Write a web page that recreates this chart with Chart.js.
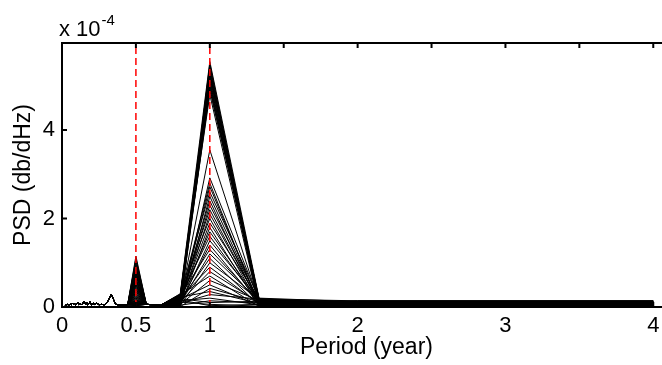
<!DOCTYPE html>
<html>
<head>
<meta charset="utf-8">
<script src="https://cdn.jsdelivr.net/npm/chart.js@4.4.1/dist/chart.umd.min.js"></script>
<style>
  html, body { margin: 0; padding: 0; overflow: hidden; background: #fff; }
</style>
</head>
<body>
<canvas id="psd-chart" width="676" height="365"></canvas>
<script>
'use strict';

// spectrum bins, period in years (longest first)
const periods = [4, 2, 1.333, 1, 0.8, 0.667, 0.571, 0.5, 0.444,
    0.4, 0.364, 0.333, 0.308, 0.286, 0.267, 0.25, 0.235, 0.222, 0.211, 0.2,
    0.19, 0.182, 0.174, 0.167, 0.16, 0.148, 0.138, 0.129, 0.121, 0.114,
    0.108, 0.1, 0.093, 0.085, 0.078, 0.07, 0.062, 0.055, 0.048, 0.04,
    0.033, 0.025, 0.02];

// PSD (x 10^-4) that every record shares at a bin; null = taken from the per-record arrays
const sharedPsd = [null, null, null, null, null, 0.04, 0.06, null, 0.05,
    0.04, 0.06, 0.28, 0.12, 0.05, 0.06, 0.05, 0.09, 0.06, 0.08, 0.05,
    0.12, 0.07, 0.05, 0.1, 0.06, 0.13, 0.07, 0.05, 0.08, 0.06,
    0.1, 0.07, 0.05, 0.08, 0.06, 0.09, 0.05, 0.07, 0.04, 0.06,
    0.05, 0.04, 0.03];

// per-record PSD (x 10^-4) at the annual peak
const peakOneYear = [5.55, 5.5, 5.45, 5.4, 5.35, 5.3, 5.28, 5.25, 5.2, 5.15,
    5.1, 5.05, 5.0, 4.95, 4.9, 4.8, 3.55, 2.92, 2.8, 2.72,
    2.6, 2.5, 2.4, 2.3, 2.2, 2.1, 2.0, 1.9, 1.8, 1.7,
    1.6, 1.5, 1.4, 1.3, 1.2, 1.1, 1.0, 0.9, 0.8, 0.7,
    0.6, 0.5, 0.42, 0.35, 0.28, 0.2, 0.14, 0.1, 0.06, 0.03];

// per-record PSD at the semi-annual peak
const peakHalfYear = [1.15, 0.62, 1.05, 0.3, 0.95, 0.48, 0.88, 0.2, 0.8, 0.1,
    0.75, 0.55, 0.7, 0.05, 1.1, 0.6, 0.4, 0.85, 0.26, 0.52,
    1.0, 0.45, 0.18, 0.65, 0.38, 0.9, 0.33, 0.15, 0.72, 0.24,
    0.58, 0.12, 0.5, 0.09, 0.42, 0.78, 0.07, 0.35, 0.28, 0.16,
    0.05, 0.22, 0.04, 0.14, 0.04, 0.11, 0.03, 0.08, 0.03, 0.06];

// per-record PSD at the bins either side of the annual peak, and at 2 and 4 years
const psdAt08 = [0.3, 0.05, 0.22, 0.1, 0.28, 0.02, 0.15, 0.25, 0.08, 0.18,
    0.12, 0.27, 0.04, 0.2, 0.06, 0.24, 0.14, 0.01, 0.19, 0.09,
    0.26, 0.03, 0.16, 0.11, 0.21, 0.07, 0.29, 0.13, 0.02, 0.17,
    0.23, 0.05, 0.1, 0.25, 0.08, 0.15, 0.03, 0.2, 0.12, 0.27,
    0.06, 0.18, 0.01, 0.22, 0.09, 0.14, 0.04, 0.19, 0.11, 0.16];
const psdAt133 = [0.2, 0.08, 0.15, 0.03, 0.18, 0.1, 0.05, 0.13, 0.19, 0.02,
    0.12, 0.06, 0.17, 0.09, 0.14, 0.01, 0.11, 0.16, 0.04, 0.07,
    0.19, 0.1, 0.03, 0.15, 0.08, 0.12, 0.05, 0.18, 0.02, 0.13,
    0.09, 0.16, 0.06, 0.11, 0.14, 0.04, 0.17, 0.07, 0.1, 0.01,
    0.15, 0.03, 0.12, 0.08, 0.18, 0.05, 0.09, 0.13, 0.02, 0.06];
const psdLong = [0.12, 0.05, 0.09, 0.02, 0.14, 0.07, 0.03, 0.1, 0.06, 0.11,
    0.04, 0.13, 0.08, 0.01, 0.09, 0.06, 0.12, 0.03, 0.07, 0.1,
    0.05, 0.11, 0.02, 0.08, 0.13, 0.04, 0.09, 0.06, 0.12, 0.03,
    0.1, 0.07, 0.14, 0.05, 0.08, 0.02, 0.11, 0.06, 0.09, 0.04,
    0.13, 0.07, 0.03, 0.1, 0.05, 0.12, 0.08, 0.01, 0.06, 0.09];

// red dashed reference periods
const markerPeriods = [0.5, 1];

const xTicks = [0, 0.5, 1, 1.5, 2, 2.5, 3, 3.5, 4];
const xTickLabels = ['0', '0.5', '1', '', '2', '', '3', '', '4'];
const yTicks = [0, 2, 4];
const yTickLabels = ['0', '2', '4'];

const X_MAX = 4.12;
const Y_MAX = 5.97;

function recordValue(i, j) {
    switch (periods[j]) {
        case 4:
        case 2:
            return psdLong[i];
        case 1.333:
            return psdAt133[i];
        case 1:
            return peakOneYear[i];
        case 0.8:
            return psdAt08[i];
        case 0.5:
            return peakHalfYear[i];
        default:
            return sharedPsd[j];
    }
}

function drawPsdChart() {
    Chart.defaults.font.family = '"Liberation Sans", Arial, Helvetica, sans-serif';
    Chart.defaults.color = '#000';

    const records = peakOneYear.map((_, i) => ({
        data: periods.map((p, j) => ({x: p, y: recordValue(i, j)})),
        borderColor: '#000',
        borderWidth: 1,
        order: 1
    }));
    const markers = markerPeriods.map(p => ({
        data: [{x: p, y: 0}, {x: p, y: Y_MAX}],
        borderColor: '#ff0000',
        borderWidth: 1.5,
        borderDash: [7, 4],
        order: 0
    }));

    // MATLAB style box with inward ticks and the exponent label
    const matlabAxes = {
        id: 'matlab_axes',
        afterDraw: (chart) => {
            const {ctx, chartArea: a} = chart;
            const xs = chart.scales.x;
            const ys = chart.scales.y;
            ctx.save();
            ctx.strokeStyle = '#000';
            ctx.lineWidth = 2;
            ctx.beginPath();
            ctx.rect(a.left, a.top, a.right - a.left, a.bottom - a.top);
            xTicks.forEach(v => {
                const px = xs.getPixelForValue(v);
                ctx.moveTo(px, a.bottom);
                ctx.lineTo(px, a.bottom - 5);
                ctx.moveTo(px, a.top);
                ctx.lineTo(px, a.top + 5);
            });
            yTicks.forEach(v => {
                const py = ys.getPixelForValue(v);
                ctx.moveTo(a.left, py);
                ctx.lineTo(a.left + 5, py);
                ctx.moveTo(a.right, py);
                ctx.lineTo(a.right - 5, py);
            });
            ctx.stroke();

            ctx.fillStyle = '#000';
            ctx.textBaseline = 'alphabetic';
            ctx.font = '22px "Liberation Sans", Arial, sans-serif';
            ctx.fillText('x 10', 59, 36);
            const w = ctx.measureText('x 10').width;
            ctx.font = '15px "Liberation Sans", Arial, sans-serif';
            ctx.fillText('-4', 59 + w + 1, 25);
            ctx.restore();
        }
    };

    const ctx = document.getElementById('psd-chart');
    const psdChart = new Chart(ctx, {
        type: 'line',
        data: {datasets: markers.concat(records)},
        options: {
            responsive: false,
            animation: false,
            layout: {padding: {top: 43, right: 5, left: 0, bottom: 0}},
            plugins: {legend: {display: false}, tooltip: {enabled: false}},
            elements: {point: {radius: 0}, line: {tension: 0}},
            scales: {
                x: {
                    type: 'linear',
                    min: 0,
                    max: X_MAX,
                    grid: {display: false, drawTicks: false},
                    border: {display: false},
                    afterBuildTicks: (s) => { s.ticks = xTicks.map(v => ({value: v})); },
                    afterFit: (s) => { s.height = 58; },
                    ticks: {
                        autoSkip: false,
                        maxRotation: 0,
                        padding: 6,
                        font: {size: 22},
                        callback: (v) => xTickLabels[xTicks.indexOf(v)]
                    },
                    title: {
                        display: true,
                        text: 'Period (year)',
                        font: {size: 23},
                        padding: {top: 0, bottom: 4}
                    }
                },
                y: {
                    type: 'linear',
                    min: 0,
                    max: Y_MAX,
                    grid: {display: false, drawTicks: false},
                    border: {display: false},
                    afterBuildTicks: (s) => { s.ticks = yTicks.map(v => ({value: v})); },
                    afterFit: (s) => { s.width = 62; },
                    ticks: {
                        padding: 7,
                        font: {size: 22},
                        callback: (v) => yTickLabels[yTicks.indexOf(v)]
                    },
                    title: {
                        display: true,
                        text: 'PSD (db/dHz)',
                        font: {size: 23},
                        padding: {top: 10, bottom: 0}
                    }
                }
            }
        },
        plugins: [matlabAxes]
    });
}

drawPsdChart();
</script>
</body>
</html>
